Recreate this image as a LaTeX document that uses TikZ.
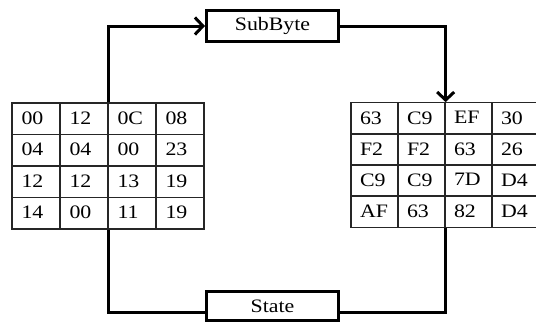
\documentclass[tikz,border=0pt]{standalone}
\usepackage{fontspec}
\setmainfont{Liberation Serif}[FakeStretch=1.15]
\usetikzlibrary{positioning,arrows.meta}
\tikzset{
  cell/.style={draw=black!85, line width=1.3pt, minimum width=48pt, minimum height=31.5pt,
    inner sep=0pt, text width=29pt, align=left, font=\fontsize{19}{20}\selectfont},
  stage/.style={draw=black, line width=3pt, fill=white, minimum width=132pt, minimum height=31pt,
    inner sep=0pt, font=\fontsize{19}{20}\selectfont},
  flow/.style={draw=black, line width=3pt},
  head/.style={-{Straight Barb[length=8pt,width=17pt,line width=3pt]}}
}

\begin{document}
\begin{tikzpicture}[x=1pt,y=-1pt]
    \useasboundingbox (0,0) rectangle (536,324);

    % input state
    \foreach \row [count=\i] in {{00,12,0C,08},{04,04,00,23},{12,12,13,19},{14,00,11,19}}
      \foreach \val [count=\j] in \row
        \node[cell] (l-\i-\j) at ({36+48*(\j-1)}, {118.75+31.5*(\i-1)}) {\raisebox{1.5pt}{\val}};

    % output state
    \foreach \row [count=\i] in {{63,C9,EF,30},{F2,F2,63,26},{C9,C9,7D,D4},{AF,63,82,D4}}
      \foreach \val [count=\j] in \row
        \node[cell, minimum width=47pt] (r-\i-\j) at ({374.5+47*(\j-1)}, {118.5+31*(\i-1)}) {\raisebox{1.5pt}{\val}};

    \node[stage] (sub) at (272.5,26) {SubByte};
    \node[stage, minimum height=29pt] (state) at (272.5,306) {State};

    \draw[flow,head] (l-1-2.north east) |- (sub.west);
    \draw[flow,head] (sub.east) -| (r-1-2.north east);
    \draw[flow] (l-4-2.south east) |- ([yshift=-6pt]state.west);
    \draw[flow] ([yshift=-6pt]state.east) -| (r-4-2.south east);
\end{tikzpicture}
\end{document}
